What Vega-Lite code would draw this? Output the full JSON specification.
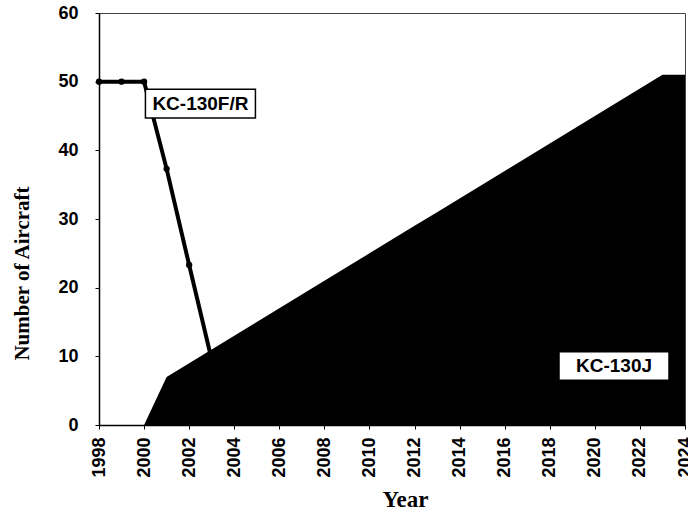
{
  "$schema": "https://vega.github.io/schema/vega-lite/v6.json",
  "width": 586,
  "height": 412,
  "autosize": {"type": "none"},
  "padding": {"left": 99, "top": 13, "right": 3, "bottom": 93},
  "background": "white",
  "config": {
    "view": {"stroke": "#444", "strokeWidth": 1},
    "axis": {"grid": false, "domainColor": "black", "domainWidth": 1.5, "tickColor": "black", "labelColor": "black", "titleColor": "black"}
  },
  "datasets": {
    "j": [
      {"year": 2000, "n": 0}, {"year": 2001, "n": 7}, {"year": 2002, "n": 9}, {"year": 2003, "n": 11},
      {"year": 2004, "n": 13}, {"year": 2005, "n": 15}, {"year": 2006, "n": 17}, {"year": 2007, "n": 19},
      {"year": 2008, "n": 21}, {"year": 2009, "n": 23}, {"year": 2010, "n": 25}, {"year": 2011, "n": 27},
      {"year": 2012, "n": 29}, {"year": 2013, "n": 31}, {"year": 2014, "n": 33}, {"year": 2015, "n": 35},
      {"year": 2016, "n": 37}, {"year": 2017, "n": 39}, {"year": 2018, "n": 41}, {"year": 2019, "n": 43},
      {"year": 2020, "n": 45}, {"year": 2021, "n": 47}, {"year": 2022, "n": 49}, {"year": 2023, "n": 51},
      {"year": 2024, "n": 51}
    ],
    "fr": [
      {"year": 1998, "n": 50}, {"year": 1999, "n": 50}, {"year": 2000, "n": 50},
      {"year": 2001, "n": 37.3}, {"year": 2002, "n": 23.3}, {"year": 2003, "n": 9.5}
    ],
    "labels": [
      {"year": 2002.5, "n": 46.8, "text": "KC-130F/R"},
      {"year": 2020.85, "n": 8.6, "text": "KC-130J"}
    ]
  },
  "layer": [
    {
      "data": {"name": "fr"},
      "mark": {"type": "line", "color": "black", "strokeWidth": 4, "point": {"filled": true, "color": "black", "size": 40}},
      "encoding": {
        "x": {"field": "year", "type": "quantitative",
              "scale": {"domain": [1998, 2024], "nice": false, "zero": false},
              "axis": {"values": [1998,2000,2002,2004,2006,2008,2010,2012,2014,2016,2018,2020,2022,2024],
                       "format": "d", "labelAngle": -90, "labelAlign": "right", "labelBaseline": "middle",
                       "labelFont": "Liberation Sans", "labelFontWeight": "bold", "labelFontSize": 18,
                       "labelPadding": 8, "tickSize": 4, "labelOverlap": false, "labelFlush": false,
                       "title": "Year", "titleFont": "Liberation Serif", "titleFontWeight": "bold",
                       "titleFontSize": 23, "titleX": 306, "titleY": 86, "titleBaseline": "bottom"}},
        "y": {"field": "n", "type": "quantitative",
              "scale": {"domain": [0, 60], "nice": false},
              "axis": {"values": [0,5,10,15,20,25,30,35,40,45,50,55,60],
                       "labelExpr": "datum.value % 10 == 0 ? datum.label : ''",
                       "labelFont": "Liberation Sans", "labelFontWeight": "bold", "labelFontSize": 18,
                       "labelPadding": 17, "tickSize": 4,
                       "title": "Number of Aircraft", "titleFont": "Liberation Serif", "titleFontWeight": "bold",
                       "titleFontSize": 21, "titleX": -77, "titleY": 260, "titleAngle": -90,
                       "titleAlign": "center", "titleBaseline": "middle"}}
      }
    },
    {
      "data": {"name": "j"},
      "mark": {"type": "area", "color": "black", "opacity": 1},
      "encoding": {
        "x": {"field": "year", "type": "quantitative"},
        "y": {"field": "n", "type": "quantitative"}
      }
    },
    {
      "data": {"name": "labels"},
      "mark": {"type": "point", "shape": "M-1,-0.26H1V0.26H-1Z", "filled": true, "fill": "white", "stroke": "black", "strokeWidth": 1.5, "size": 12100, "opacity": 1},
      "encoding": {
        "x": {"field": "year", "type": "quantitative"},
        "y": {"field": "n", "type": "quantitative"}
      }
    },
    {
      "data": {"name": "labels"},
      "mark": {"type": "text", "font": "Liberation Sans", "fontWeight": "bold", "fontSize": 19, "color": "black", "baseline": "middle", "align": "center"},
      "encoding": {
        "x": {"field": "year", "type": "quantitative"},
        "y": {"field": "n", "type": "quantitative"},
        "text": {"field": "text"}
      }
    }
  ]
}
